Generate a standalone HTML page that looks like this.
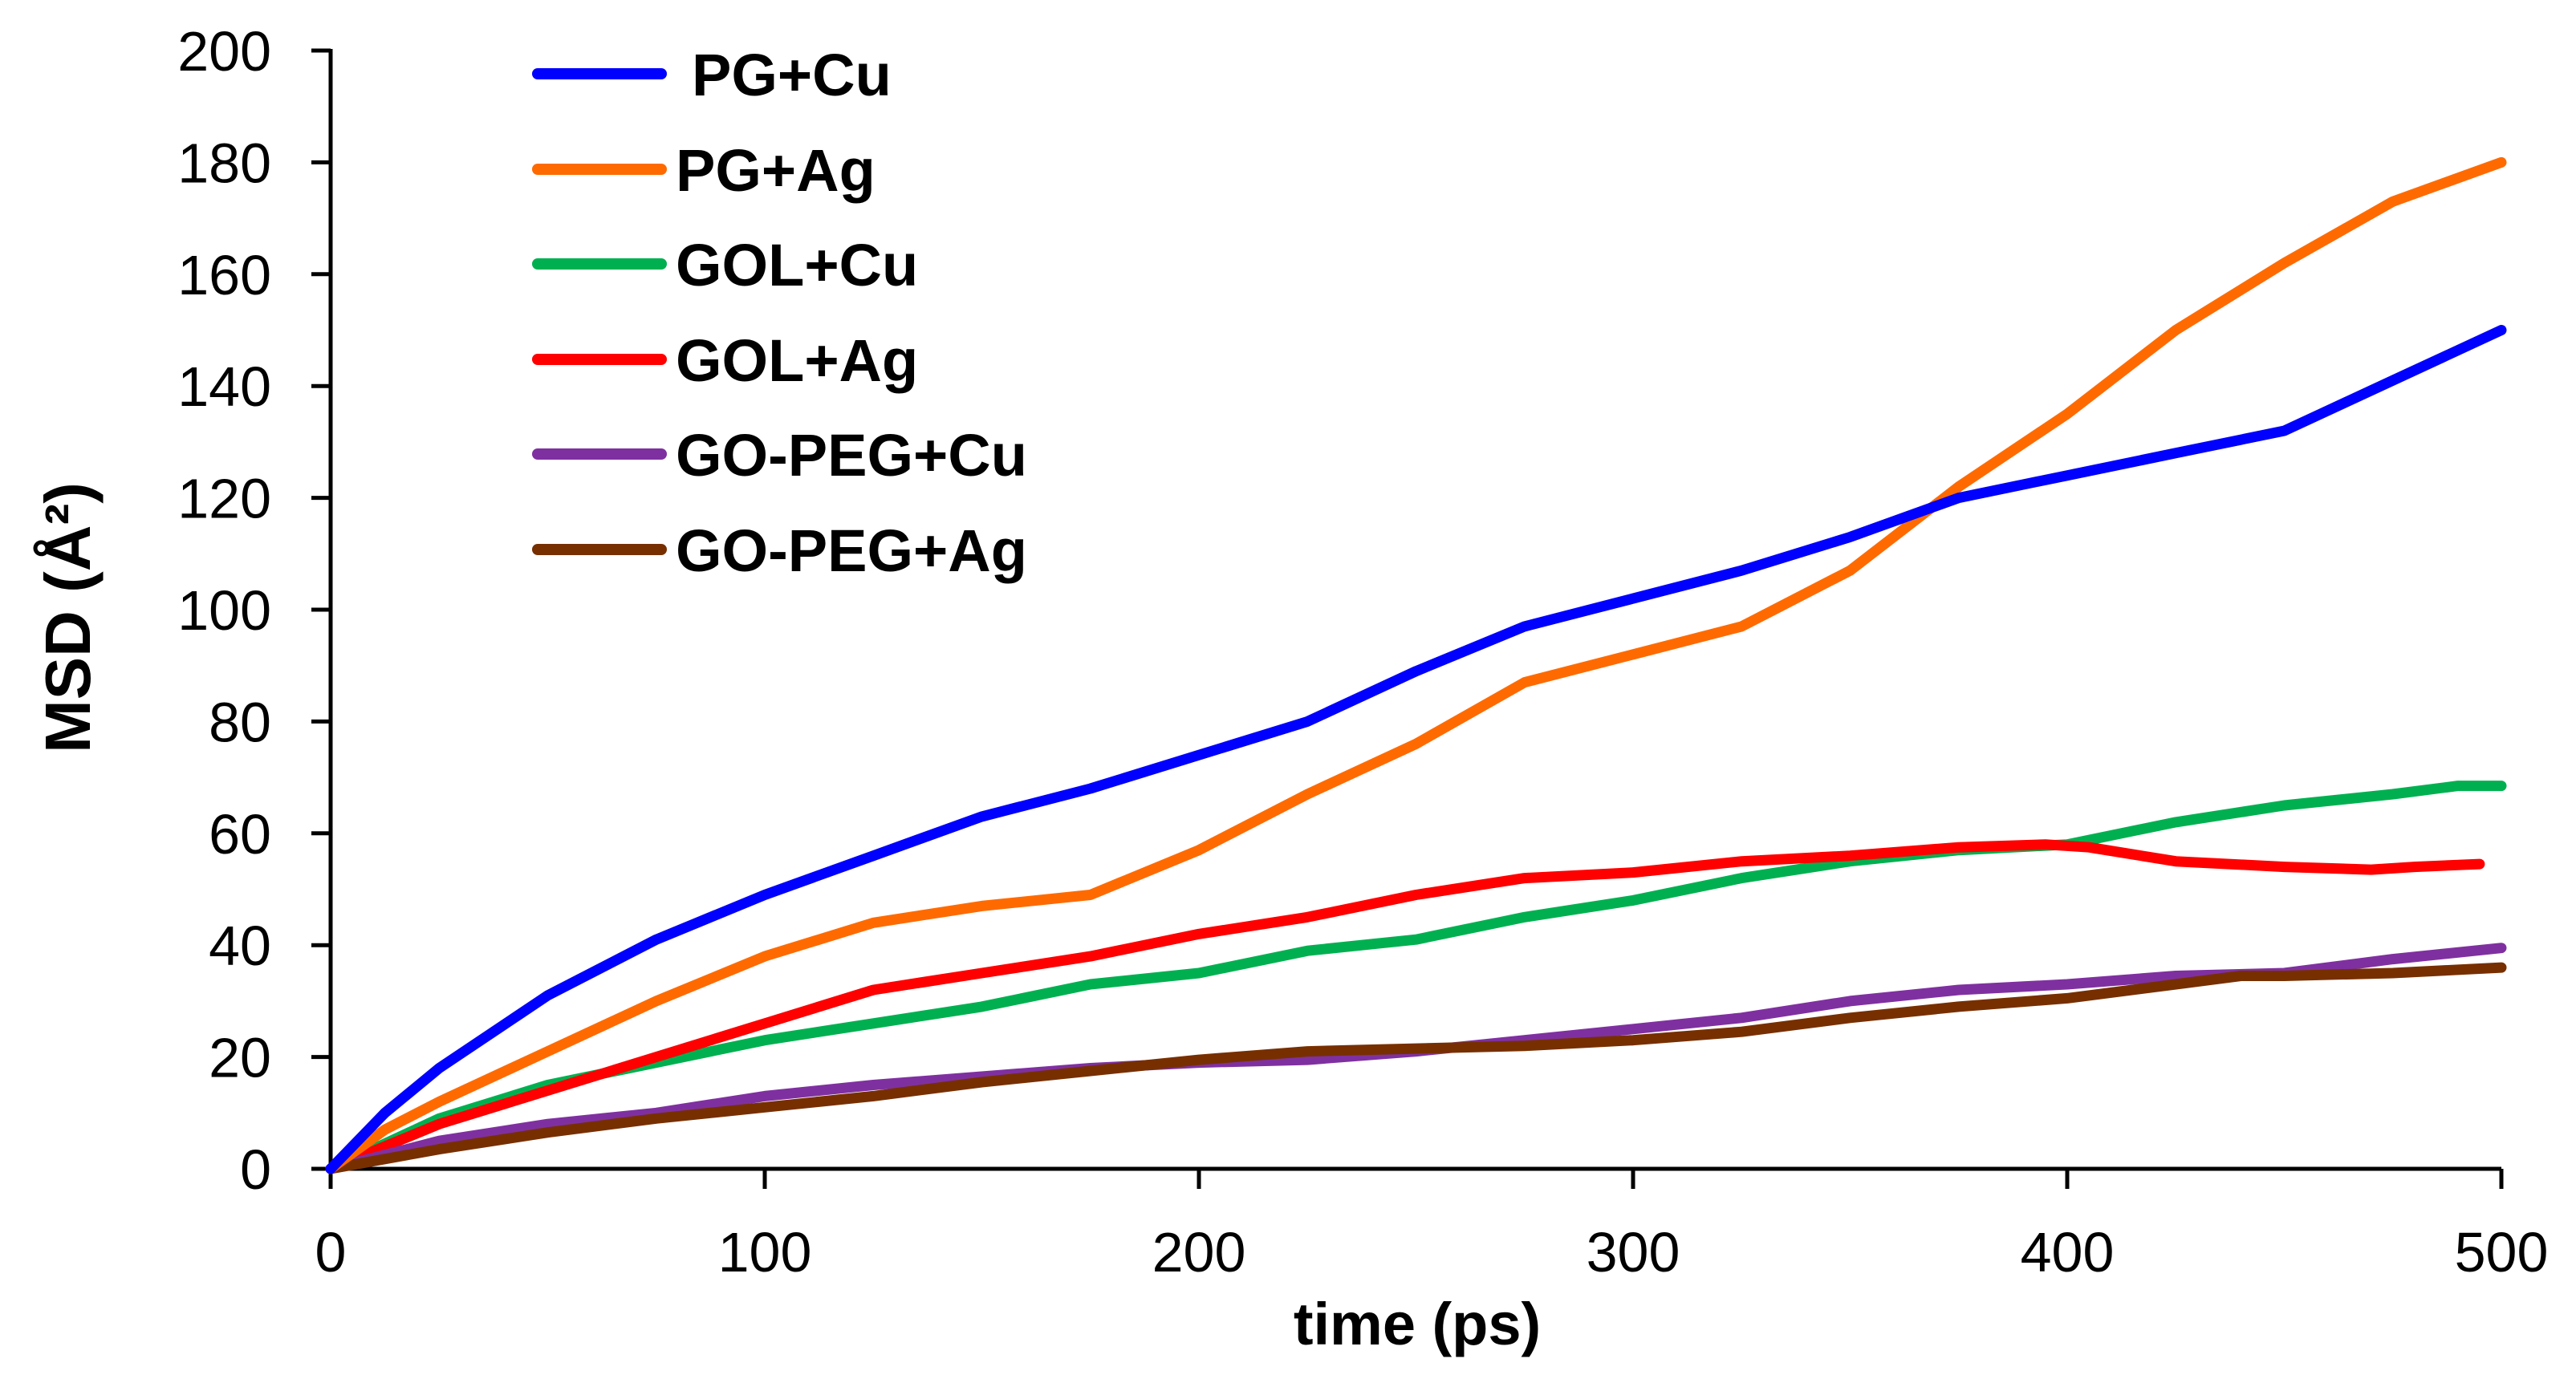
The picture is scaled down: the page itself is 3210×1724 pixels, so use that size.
<!DOCTYPE html>
<html><head><meta charset="utf-8"><style>
html,body{margin:0;padding:0;background:#fff;}
svg{display:block;}
text{font-family:"Liberation Sans",sans-serif;}
</style></head><body>
<svg id="chart" width="3210" height="1724" viewBox="0 0 3210 1724" xmlns="http://www.w3.org/2000/svg">
<g id="axes"></g>
<g id="series"></g>
<g id="legend"></g>
<text x="1766" y="1676" font-size="74" font-weight="bold" text-anchor="middle">time (ps)</text>
<text transform="translate(112,770) rotate(-90)" font-size="80" font-weight="bold" text-anchor="middle">MSD (Å²)</text>
</svg>
<script>
const xTicks=[0,100,200,300,400,500];
const yTicks=[0,20,40,60,80,100,120,140,160,180,200];
const seriesNames=["PG+Cu","PG+Ag","GOL+Cu","GOL+Ag","GO-PEG+Cu","GO-PEG+Ag"];
const seriesColors=["#0000ff","#ff6a00","#00b050","#ff0000","#7f30a0","#772f00"];
const timesA=[0,12.5,25,50,75,100,125,150,175,200,225,250,275,300,325,350,375,400,425,450,475,500];
const pgCu=[0,10,18,31,41,49,56,63,68,74,80,89,97,102,107,113,120,124,128,132,141,150];
const pgAg=[0,7,12,21,30,38,44,47,49,57,67,76,87,92,97,107,122,135,150,162,173,180];
const timesG=[0,25,50,75,100,125,150,175,200,225,250,275,300,325,350,375,400,425,450,475,490,500];
const golCu=[0,9,15,19,23,26,29,33,35,39,41,45,48,52,55,57,58,62,65,67,68.5,68.5];
const timesR=[0,25,50,75,100,125,150,175,200,225,250,275,300,325,350,375,395,405,425,450,470,480,495];
const golAg=[0,8,14,20,26,32,35,38,42,45,49,52,53,55,56,57.5,58,57.5,55,54,53.5,54,54.5];
const timesP=[0,25,50,75,100,125,150,175,200,225,250,275,300,325,350,375,400,425,450,475,500];
const pegCu=[0,5,8,10,13,15,16.5,18,19,19.5,21,23,25,27,30,32,33,34.5,35,37.5,39.5];
const timesB=[0,25,50,75,100,125,150,175,200,225,250,275,300,325,350,375,400,425,440,450,475,500];
const pegAg=[0,3.5,6.5,9,11,13,15.5,17.5,19.5,21,21.5,22,23,24.5,27,29,30.5,33,34.5,34.5,35,36];

const X0=412,X1=3117,Y0=1457,Y1=63;
const xs=v=>X0+(X1-X0)*v/500;
const ys=v=>Y0-(Y0-Y1)*v/200;
const NS="http://www.w3.org/2000/svg";
function mk(tag,attrs,parent){const e=document.createElementNS(NS,tag);for(const k in attrs)e.setAttribute(k,attrs[k]);parent.appendChild(e);return e;}
const axes=document.getElementById('axes');
let e=mk('line',{x1:X0,y1:Y1-2,x2:X0,y2:Y0,stroke:'#000','stroke-width':5},axes);


yTicks.forEach(v=>{
  let t=mk('line',{x1:388,y1:ys(v),x2:X0,y2:ys(v),stroke:'#000','stroke-width':5},axes);
  
  
  let l=mk('text',{x:338,y:ys(v)+25,'font-size':70,'text-anchor':'end'},axes);
  l.textContent=v;
  
  
});
xTicks.forEach(v=>{
  let t=mk('line',{x1:xs(v),y1:Y0,x2:xs(v),y2:1482,stroke:'#000','stroke-width':5},axes);
  
  
  let l=mk('text',{x:xs(v),y:1585,'font-size':70,'text-anchor':'middle'},axes);
  l.textContent=v;
  
  
});
const sg=document.getElementById('series');
const data=[[timesA,pgCu],[timesA,pgAg],[timesG,golCu],[timesR,golAg],[timesP,pegCu],[timesB,pegAg]];
const order=[2,3,4,5,1,0];
order.forEach(i=>{
  const [t,v]=data[i];
  const d=t.map((tt,j)=>(j?'L':'M')+xs(tt).toFixed(1)+','+ys(v[j]).toFixed(1)).join(' ');
  let p=mk('path',{d:d,fill:'none',stroke:seriesColors[i],'stroke-width':13,'stroke-linejoin':'round','stroke-linecap':'round'},sg);
  
  
});
let xl=mk('line',{x1:X0,y1:Y0,x2:X1,y2:Y0,stroke:'#000','stroke-width':5},axes);


const lg=document.getElementById('legend');
const rowY=[92,211,329,448,566,685];
const textX=[862,842,842,842,842,842];
seriesNames.forEach((n,i)=>{
  let g=mk('g',{},lg);
  
  
  let l=mk('line',{x1:670,y1:rowY[i],x2:824,y2:rowY[i],stroke:seriesColors[i],'stroke-width':14,'stroke-linecap':'round'},g);
  
  
  let t=mk('text',{x:textX[i],y:rowY[i]+27,'font-size':74,'font-weight':'bold'},g);
  t.textContent=n;
  
  
});
</script>
</body></html>
